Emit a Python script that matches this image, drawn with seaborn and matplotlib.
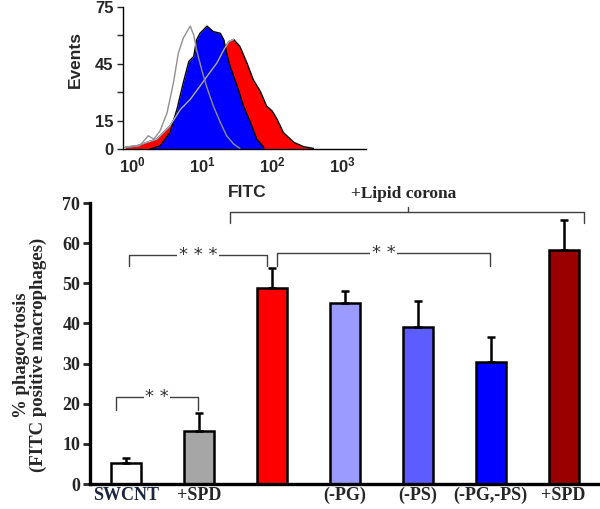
import numpy as np
import matplotlib
matplotlib.use("Agg")
import matplotlib.pyplot as plt
import seaborn as sns

# bar chart: % phagocytosis (FITC positive macrophages)
groups = ["SWCNT", "+SPD", "", "(-PG)", "(-PS)", "(-PG,-PS)", "+SPD"]
phago = [5.3, 13.3, 48.8, 45.1, 39.2, 30.5, 58.2]
phago_err = [1.1, 4.3, 5.0, 2.9, 6.5, 6.2, 7.6]
bar_colors = ["#ffffff", "#a6a6a6", "#ff0000", "#9a9aff", "#5c5cff", "#0000ff", "#990000"]

# inset histogram: log10(FITC) vs events
ctrl_log = [-0.08, 0.11, 0.23, 0.31, 0.40, 0.50, 0.59, 0.66, 0.73, 0.83, 0.88, 0.92,
            1.00, 1.07, 1.16, 1.26, 1.35, 1.45, 1.54]
ctrl_events = [0.9, 1.7, 7.0, 5.2, 9.6, 19.2, 34.9, 50.6, 58.5, 64.9, 60.2, 52.4,
               41.0, 32.3, 22.7, 14.0, 7.0, 2.6, 0.3]
blue_log = [0.26, 0.40, 0.54, 0.64, 0.73, 0.81, 0.88, 0.92, 0.97, 1.07, 1.16, 1.26,
            1.31, 1.35, 1.40, 1.50, 1.59, 1.69, 1.78, 1.88]
blue_events = [0.0, 1.7, 8.7, 20.9, 34.9, 46.2, 48.9, 57.6, 61.1, 64.9, 62.0, 61.1,
               57.6, 50.6, 43.6, 33.2, 22.7, 14.0, 5.2, 0.9]
red_log = [-0.10, 0.07, 0.21, 0.35, 0.54, 0.69, 0.83, 0.97, 1.07, 1.21, 1.31, 1.38,
           1.45, 1.54, 1.64, 1.73, 1.83, 1.92, 2.00, 2.07, 2.16, 2.31, 2.45, 2.59]
red_events = [0.9, 1.7, 3.5, 5.2, 12.2, 20.9, 26.2, 33.2, 38.4, 45.4, 52.4, 56.7,
              57.9, 54.1, 45.4, 36.6, 30.5, 22.7, 20.1, 15.7, 8.7, 3.5, 1.2, 0.3]

SERIF = "Liberation Serif"
SANS = "Liberation Sans"


def bracket(ax, x0, x1, y, drop, label):
	ax.plot([x0, x0, x1, x1], [y - drop, y, y, y - drop], color="#404040", lw=1)
	ax.text((x0 + x1) / 2, y, label, ha="center", va="center", fontsize=13,
			color="#333333", bbox=dict(facecolor="white", edgecolor="none", pad=1))


def main():
	sns.set_theme(style="white")
	plt.rcParams["mathtext.default"] = "regular"
	fig = plt.figure(figsize=(6, 5.09), dpi=100)

	# ---- bar chart ----
	ax = fig.add_axes([0.15, 0.0491, 0.85, 0.552])
	pos = list(range(len(phago)))
	sns.barplot(x=pos, y=phago, hue=pos, palette=bar_colors, legend=False, saturation=1,
				width=0.41, edgecolor="black", linewidth=1.8, ax=ax)
	ax.errorbar(pos, phago, yerr=[np.zeros(len(phago)), phago_err], fmt="none",
				ecolor="black", elinewidth=1.8, capsize=3, capthick=1.8)
	ax.set_xlim(-0.5, 6.5)
	ax.set_ylim(0, 70)
	ax.set_yticks(range(0, 71, 10))
	ax.set_xticks(pos)
	ax.set_xticklabels(groups, fontfamily=SERIF, fontweight="bold", fontsize=13)
	ax.get_xticklabels()[0].set_color("#1c2540")
	for lab in ax.get_yticklabels():
		lab.set_fontfamily(SERIF)
		lab.set_fontweight("bold")
		lab.set_fontsize(13)
	ax.tick_params(axis="y", direction="out", length=5, width=2, left=True, pad=2)
	ax.tick_params(axis="x", length=0, pad=2)
	for side in ["top", "right"]:
		ax.spines[side].set_visible(False)
	for side in ["left", "bottom"]:
		ax.spines[side].set_linewidth(2.4)
		ax.spines[side].set_color("black")
	ax.set_ylabel("% phagocytosis\n(FITC positive macrophages)", fontfamily=SERIF,
				  fontweight="bold", fontsize=13.5, linespacing=1.0)
	ax.yaxis.set_label_coords(-0.084, 0.46)

	bracket(ax, -0.14, 0.98, 21.6, 3.1, "* *")
	bracket(ax, 0.04, 1.93, 57.1, 2.7, "* * *")
	bracket(ax, 2.07, 4.99, 57.6, 3.2, "* *")
	# +Lipid corona brace
	ax.plot([1.42, 1.42, 6.28, 6.28], [65.1, 67.8, 67.8, 65.1], color="#404040", lw=1,
			clip_on=False)
	ax.plot([3.86, 3.86], [67.8, 69.0], color="#404040", lw=1, clip_on=False)
	ax.text(3.8, 72.2, "+Lipid corona", ha="center", va="center", fontsize=12.5,
			fontfamily=SERIF, fontweight="bold", clip_on=False)

	# ---- inset histogram ----
	ins = fig.add_axes([0.205, 0.7073, 0.405, 0.279])
	ins.set_facecolor("none")
	red_x = np.power(10.0, red_log)
	blue_x = np.power(10.0, blue_log)
	ctrl_x = np.power(10.0, ctrl_log)
	ins.fill_between(red_x, red_events, color="#ff0000", lw=0)
	ins.plot(red_x, red_events, color="black", lw=1)
	ins.fill_between(blue_x, blue_events, color="#0000ff", lw=0)
	ins.plot(blue_x, blue_events, color="black", lw=1)
	ins.plot(red_x[:13], red_events[:13], color="#b0b0c0", lw=1)
	ins.plot(ctrl_x, ctrl_events, color="#909090", lw=1)
	ins.set_xscale("log")
	ins.set_xlim(10 ** -0.13, 10 ** 3.34)
	ins.set_ylim(0, 75)
	ins.set_xticks([1, 10, 100, 1000])
	ins.set_xticklabels(["10$^{0}$", "10$^{1}$", "10$^{2}$", "10$^{3}$"])
	ins.xaxis.set_minor_locator(matplotlib.ticker.NullLocator())
	ins.set_yticks([0, 15, 30, 45, 60, 75])
	ins.set_yticklabels(["0", "15", "", "45", "", "75"])
	for lab in ins.get_xticklabels() + ins.get_yticklabels():
		lab.set_fontfamily(SANS)
		lab.set_fontweight("bold")
		lab.set_fontsize(12)
	ins.tick_params(axis="y", direction="out", length=4, width=1, left=True, pad=3)
	ins.tick_params(axis="x", length=0, pad=5)
	for side in ["top", "right"]:
		ins.spines[side].set_visible(False)
	for side in ["left", "bottom"]:
		ins.spines[side].set_linewidth(1)
		ins.spines[side].set_color("black")
	fig.text(75 / 600, 1 - 60 / 509, "Events", rotation=90, ha="center", va="center",
			 fontfamily=SANS, fontweight="bold", fontsize=12.5)
	fig.text(247 / 600, 1 - 192 / 509, "FITC", ha="center", va="center",
			 fontfamily=SANS, fontweight="bold", fontsize=12.5)

	fig.savefig("out.png", dpi=100)


if __name__ == "__main__":
	main()
